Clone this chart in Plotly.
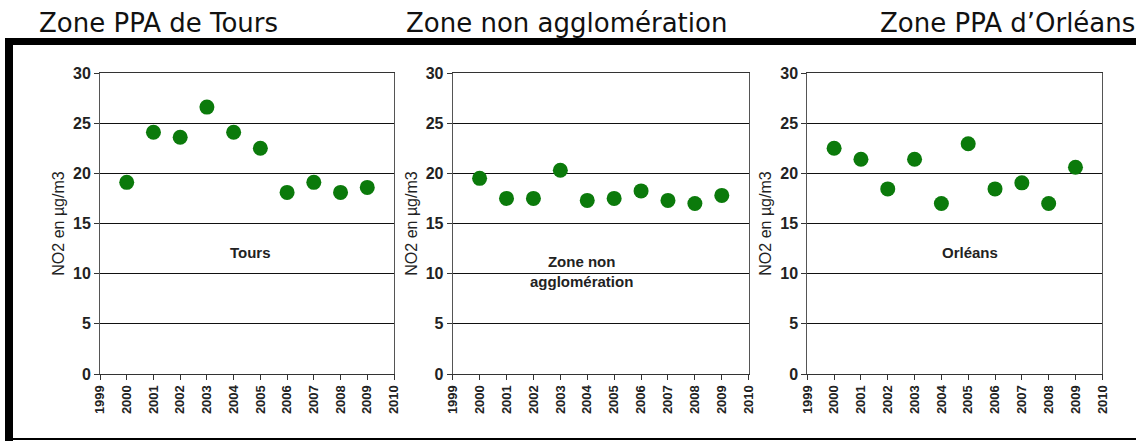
import plotly.graph_objects as go

W, H = 1136, 441

years = [2000, 2001, 2002, 2003, 2004, 2005, 2006, 2007, 2008, 2009]
tours = [19.1, 24.1, 23.6, 26.6, 24.1, 22.5, 18.1, 19.1, 18.1, 18.6]
non_agglo = [19.5, 17.5, 17.5, 20.3, 17.3, 17.5, 18.25, 17.3, 17.0, 17.8]
orleans = [22.5, 21.4, 18.45, 21.4, 17.0, 22.95, 18.45, 19.05, 17.0, 20.6]

zone_titles = ["Zone PPA de Tours", "Zone non agglomération", "Zone PPA d\u2019Orléans"]
panel_labels = ["Tours", "Zone non<br>agglomération", "Orléans"]
y_title = "NO2 en µg/m3"
x_ticks = list(range(1999, 2011))
y_ticks = [0, 5, 10, 15, 20, 25, 30]

series = [tours, non_agglo, orleans]

# pixel layout of plot areas
px_left = [100, 452.7, 807.3]
px_right = [394, 748.7, 1102.3]
py_top, py_bot = 73, 374
title_x = [37, 404, 878]
label_pos = [(0.512, 0.402), (0.436, 0.339), (0.551, 0.402)]

green = "#0b7a0b"
fig = go.Figure()

for i in range(3):
    xa = "x" if i == 0 else f"x{i+1}"
    ya = "y" if i == 0 else f"y{i+1}"
    fig.add_trace(go.Scatter(
        x=years, y=series[i], mode="markers",
        marker=dict(size=15, color=green, line=dict(width=0)),
        xaxis=xa, yaxis=ya, showlegend=False,
    ))
    xdom = [px_left[i] / W, px_right[i] / W]
    ydom = [1 - py_bot / H, 1 - py_top / H]
    axis_x = dict(
        domain=xdom, range=[1999, 2010], tickmode="array", tickvals=x_ticks,
        ticktext=[str(t) for t in x_ticks], tickangle=-90,
        tickfont=dict(family="Liberation Sans, Arial, sans-serif", size=13, color="#222", weight="bold"),
        ticks="outside", ticklen=5, tickcolor="#333", showgrid=False,
        showline=True, linecolor="#333", linewidth=1, mirror=True, zeroline=False,
        anchor=ya, fixedrange=True, automargin=False,
    )
    axis_y = dict(
        domain=ydom, range=[0, 30], tickmode="array", tickvals=y_ticks,
        tickfont=dict(family="Liberation Sans, Arial, sans-serif", size=16, color="#222", weight="bold"),
        ticks="outside", ticklen=5, tickcolor="#333",
        showgrid=True, gridcolor="#111", gridwidth=1,
        showline=True, linecolor="#555", linewidth=1, mirror=True, zeroline=False,
        title=dict(text=y_title, font=dict(family="Liberation Sans, Arial, sans-serif", size=16, color="#222"), standoff=4),
        anchor=xa, fixedrange=True, automargin=False,
    )
    fig.layout["xaxis" if i == 0 else f"xaxis{i+1}"] = axis_x
    fig.layout["yaxis" if i == 0 else f"yaxis{i+1}"] = axis_y

    fig.add_annotation(
        text=panel_labels[i], xref=f"{xa} domain", yref=f"{ya} domain",
        x=label_pos[i][0], y=label_pos[i][1], showarrow=False,
        font=dict(family="Liberation Sans, Arial, sans-serif", size=15, color="#222", weight="bold"),
        align="center",
    )
    fig.add_annotation(
        text=zone_titles[i], xref="paper", yref="paper",
        x=title_x[i] / W, y=1 - 23.5 / H, xanchor="left", yanchor="middle",
        showarrow=False,
        font=dict(family="DejaVu Sans, Verdana, sans-serif", size=26, color="#111"),
    )

# black frame
frame = [
    (5, 38, W + 2, 45),
    (5, 38, 13, H + 2),
    (5, 438, W + 2, 440),
]
for x0, y0, x1, y1 in frame:
    fig.add_shape(type="rect", xref="paper", yref="paper",
                  x0=x0 / W, x1=x1 / W, y0=1 - y0 / H, y1=1 - y1 / H,
                  fillcolor="black", line=dict(width=0), layer="above")

fig.update_layout(
    width=W, height=H, autosize=False,
    margin=dict(l=0, r=0, t=0, b=0, pad=0, autoexpand=False),
    paper_bgcolor="white", plot_bgcolor="white",
    showlegend=False,
)

fig.write_html(
    "out.html",
    config={"displayModeBar": False, "staticPlot": True},
    post_script="document.body.style.margin='0';document.body.style.overflow='hidden';",
)
